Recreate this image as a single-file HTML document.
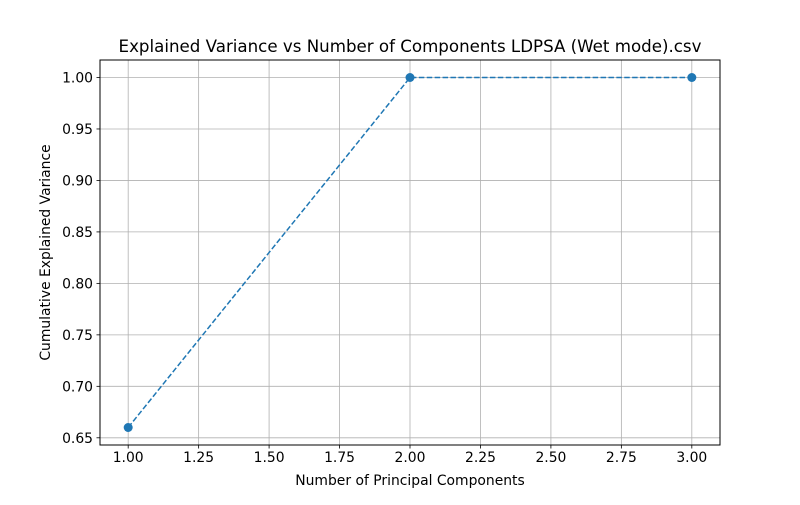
<!DOCTYPE html>
<html><head><meta charset="utf-8"><style>body{margin:0;background:#fff}svg text{font-family:"DejaVu Sans","Liberation Sans",sans-serif;fill:#000}</style></head>
<body>
<svg id="chart" width="800" height="500" xmlns="http://www.w3.org/2000/svg">
<rect width="800" height="500" fill="#fff"/>
<g id="grid"></g>
<g id="ticks"></g>
<g id="series"></g>
<rect x="100" y="60" width="620" height="385" fill="none" stroke="#000" stroke-width="1"/>
<text x="410" y="52" text-anchor="middle" font-size="16.67">Explained Variance vs Number of Components LDPSA (Wet mode).csv</text>
<text x="410" y="485" text-anchor="middle" font-size="13.9">Number of Principal Components</text>
<text transform="translate(50,252.5) rotate(-90)" text-anchor="middle" font-size="13.9">Cumulative Explained Variance</text>
</svg>
<script>
const components = [1, 2, 3];
const cumVariance = [0.66, 1.0, 1.0];
const xTicks = [1.00, 1.25, 1.50, 1.75, 2.00, 2.25, 2.50, 2.75, 3.00];
const yTicks = [0.65, 0.70, 0.75, 0.80, 0.85, 0.90, 0.95, 1.00];
const NS = "http://www.w3.org/2000/svg";
const L=100,R=720,T=60,B=445;
const xmin=0.9,xmax=3.1;
const ymin=0.643,ymax=1.017;
const xs=v=>L+(v-xmin)/(xmax-xmin)*(R-L);
const ys=v=>B-(v-ymin)/(ymax-ymin)*(B-T);
function mk(tag,attrs,parent){const e=document.createElementNS(NS,tag);for(const k in attrs)e.setAttribute(k,attrs[k]);document.getElementById(parent).appendChild(e);return e;}
xTicks.forEach(t=>{
  const x=xs(t);
  const g=mk('line',{x1:x,x2:x,y1:T,y2:B,stroke:'#b0b0b0','stroke-width':0.8},'grid');
  
  
  const tk=mk('line',{x1:x,x2:x,y1:B,y2:B+3.5,stroke:'#000','stroke-width':0.8},'ticks');
  
  
  const tx=mk('text',{x:x,y:B+17,'text-anchor':'middle','font-size':13.9},'ticks');
  tx.textContent=t.toFixed(2);
  
  
});
yTicks.forEach(t=>{
  const y=ys(t);
  const g=mk('line',{x1:L,x2:R,y1:y,y2:y,stroke:'#b0b0b0','stroke-width':0.8},'grid');
  
  
  const tk=mk('line',{x1:L-3.5,x2:L,y1:y,y2:y,stroke:'#000','stroke-width':0.8},'ticks');
  
  
  const tx=mk('text',{x:L-7,y:y+5,'text-anchor':'end','font-size':13.9},'ticks');
  tx.textContent=t.toFixed(2);
  
  
});
const pts=components.map((c,i)=>xs(c)+','+ys(cumVariance[i])).join(' ');
const line=mk('polyline',{points:pts,fill:'none',stroke:'#1f77b4','stroke-width':1.5,'stroke-dasharray':'5.5,2.4'},'series');


components.forEach((c,i)=>{
  const p=mk('circle',{cx:xs(c),cy:ys(cumVariance[i]),r:4.5,fill:'#1f77b4'},'series');
  
  
});
</script>
</body></html>
